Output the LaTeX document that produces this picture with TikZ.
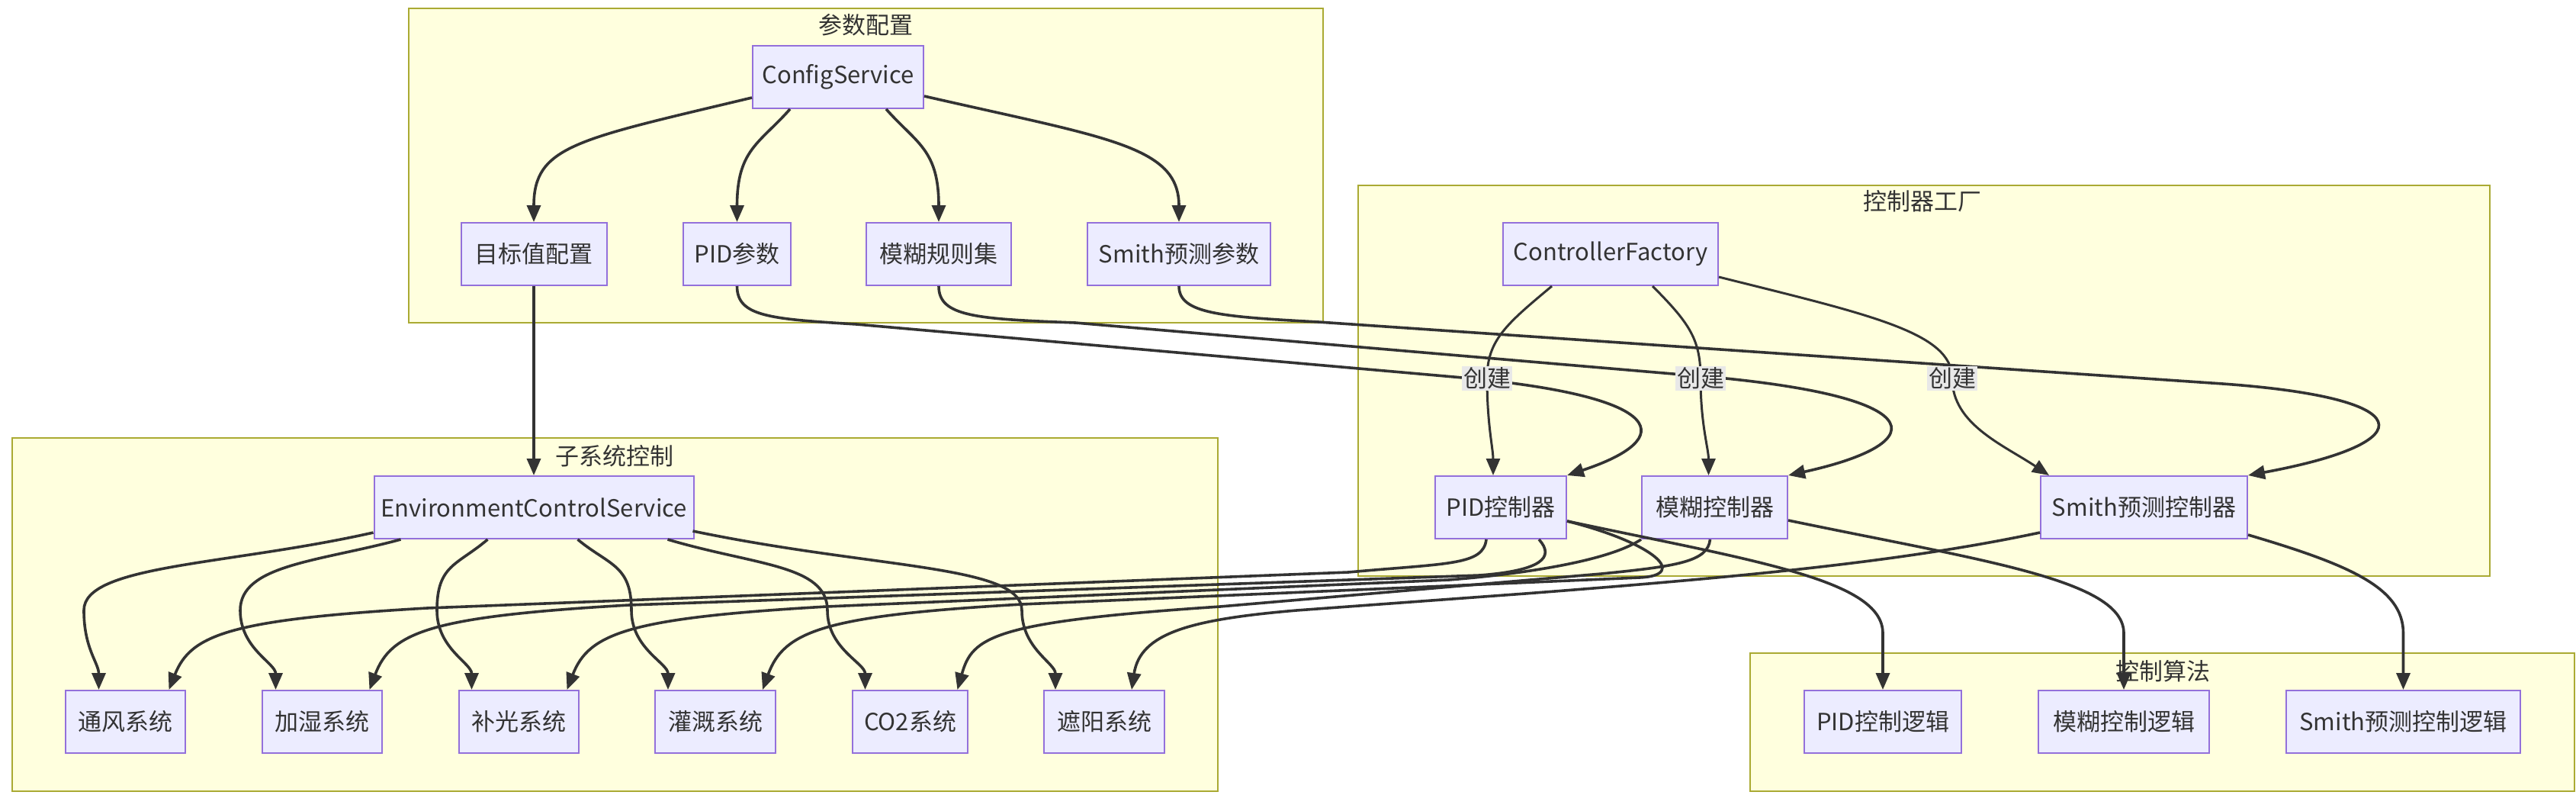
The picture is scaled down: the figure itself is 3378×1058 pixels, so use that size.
\documentclass[tikz,border=0pt]{standalone}
\usepackage{fontspec}
\setmainfont{Noto Sans CJK SC}
\usepackage{tikz}
\usetikzlibrary{arrows.meta}

\definecolor{nodefill}{HTML}{ECECFF}
\definecolor{nodeline}{HTML}{9370DB}
\definecolor{groupfill}{HTML}{FFFFDE}
\definecolor{groupline}{HTML}{AAAA33}
\definecolor{ink}{HTML}{333333}
\definecolor{lblbg}{HTML}{E8E8E8}

\tikzset{
  box/.style={draw=nodeline, fill=nodefill, line width=2pt, minimum height=82pt, inner sep=4pt, text=ink, font=\fontsize{31pt}{36pt}\selectfont},
  cluster/.style={draw=groupline, fill=groupfill, line width=2pt},
  grouptitle/.style={text=ink, inner sep=0pt, font=\fontsize{31pt}{36pt}\selectfont},
  arr/.style={draw=ink, line width=3.6pt, -{Triangle[length=22pt,width=18pt]}},
  makearr/.style={arr, line width=3pt},
  lbl/.style={fill=lblbg, text=ink, inner sep=2pt, font=\fontsize{31pt}{36pt}\selectfont}
}

\begin{document}
\begin{tikzpicture}[x=1pt, y=-1pt]
    \useasboundingbox (0,0) rectangle (3378,1058);

    % Clusters
    \draw[cluster] (536,11) rectangle (1735,423);
    \draw[cluster] (1781,243) rectangle (3265,755);
    \draw[cluster] (16,574) rectangle (1597,1037);
    \draw[cluster] (2295,856) rectangle (3376,1037);
    \node[grouptitle] (cfgtitle) at (1135,33) {参数配置};
    \node[grouptitle] (factorytitle) at (2521,264) {控制器工厂};
    \node[grouptitle] (subtitle) at (806,598) {子系统控制};
    \node[grouptitle] (algotitle) at (2836,880) {控制算法};

    % Configuration
    \node[box, minimum width=224pt] (cfg) at (1099,101) {ConfigService};
    \node[box, minimum width=191pt] (target) at (700,333) {目标值配置};
    \node[box, minimum width=141pt] (pidpar) at (966.5,333) {PID参数};
    \node[box, minimum width=190pt] (fuzzypar) at (1231,333) {模糊规则集};
    \node[box, minimum width=240pt] (smithpar) at (1546,333) {Smith预测参数};

    % Controller factory
    \node[box, minimum width=282pt] (factory) at (2112,333) {ControllerFactory};
    \node[box, minimum width=172pt] (pidctl) at (1968,665) {PID控制器};
    \node[box, minimum width=191pt] (fuzzyctl) at (2248.5,665) {模糊控制器};
    \node[box, minimum width=271pt] (smithctl) at (2811.5,665) {Smith预测控制器};

    % Subsystems
    \node[box, minimum width=419pt] (envsvc) at (700,665) {EnvironmentControlService};
    \node[box, minimum width=157pt] (vent) at (164.5,946) {通风系统};
    \node[box, minimum width=157pt] (humid) at (422.5,946) {加湿系统};
    \node[box, minimum width=157pt] (light) at (680.5,946) {补光系统};
    \node[box, minimum width=158pt] (irrig) at (938,946) {灌溉系统};
    \node[box, minimum width=151pt] (co2) at (1193.5,946) {CO2系统};
    \node[box, minimum width=158pt] (shade) at (1448,946) {遮阳系统};

    % Algorithms
    \node[box, minimum width=206pt] (pidlog) at (2469,946) {PID控制逻辑};
    \node[box, minimum width=224pt] (fuzzylog) at (2785,946) {模糊控制逻辑};
    \node[box, minimum width=307pt] (smithlog) at (3151.5,946) {Smith预测控制逻辑};

    % ConfigService to its parameters
    \draw[arr] ([yshift=15pt]cfg.south west) .. controls +(-230,55) and +(0,-100) .. (target.north);
    \draw[arr] ([xshift=50pt]cfg.south west) .. controls +(-40,45) and +(0,-95) .. (pidpar.north);
    \draw[arr] ([xshift=-50pt]cfg.south east) .. controls +(40,45) and +(0,-95) .. (fuzzypar.north);
    \draw[arr] ([yshift=17pt]cfg.south east) .. controls +(240,55) and +(0,-100) .. (smithpar.north);

    % Target values feed the environment service
    \draw[arr] (target) -- (envsvc);

    % Parameters to controllers
    \draw[arr] (pidpar.south) .. controls +(0,40) and (1010,418) .. (1123,425) -- (1918,495) .. controls (2190,520) and (2200,575) .. (pidctl.north east);
    \draw[arr] (fuzzypar.south) .. controls +(0,40) and (1280,418) .. (1410,423) -- (2194,490) .. controls (2540,515) and (2540,580) .. (fuzzyctl.north east);
    \draw[arr] (smithpar.south) .. controls +(0,36) and (1600,415) .. (1729,422) -- (2900,502) .. controls (3180,520) and (3180,580) .. (smithctl.north east);

    % Factory creates controllers
    \draw[makearr] ([xshift=65pt]factory.south west) .. controls +(-60,50) and +(0,-50) .. (1950,496) node[lbl] (mk1) {创建} .. controls +(0,60) and +(0,-35) .. ([xshift=-10pt]pidctl.north);
    \draw[makearr] ([xshift=197pt]factory.south west) .. controls +(50,50) and +(0,-50) .. (2230,496) node[lbl] (mk2) {创建} .. controls +(0,60) and +(0,-35) .. ([xshift=-8pt]fuzzyctl.north);
    \draw[makearr] ([yshift=12pt]factory.south east) .. controls +(200,50) and +(0,-60) .. (2560,496) node[lbl] (mk3) {创建} .. controls +(0,60) and +(-60,-40) .. ([xshift=12pt]smithctl.north west);

    % Controllers to algorithms
    \draw[arr] ([yshift=-18pt]pidctl.east) .. controls (2300,735) and (2469,760) .. (2469,830) -- (pidlog.north);
    \draw[arr] ([yshift=-17pt]fuzzyctl.east) .. controls (2600,735) and (2785,760) .. (2785,830) -- (fuzzylog.north);
    \draw[arr] ([yshift=6pt]smithctl.south east) .. controls (3080,740) and (3151.5,770) .. (3151.5,830) -- (smithlog.north);

    % Environment service to the subsystems
    \foreach \sub/\sx/\sy/\cx/\cy/\xv/\ex in {vent/0/9/-191/43/110/-35, humid/36/0/-107/29/315/-61, light/150/0/-40/34/573/-62, irrig/268/0/41/34/828/-62, co2/386/0/114/34/1085/-59, shade/419/11/240/50/1340/-64}
        \draw[arr] ([xshift=\sx pt,yshift=\sy pt]envsvc.south west) .. controls +(\cx,\cy) and (\xv,740) .. (\xv,800) .. controls (\xv,850) and ([xshift=\ex pt,yshift=35pt]\sub.north) .. ([xshift=\ex pt]\sub.north);

    % Controllers to the subsystems
    \draw[arr] ([xshift=-19pt]pidctl.south) .. controls +(-4,34) and (1900,738) .. (1768,750) -- (560,797) .. controls (300,812) and (250,832) .. ([xshift=57pt]vent.north);
    \draw[arr] ([xshift=50pt]pidctl.south) .. controls +(22,24) and (2020,748) .. (1940,754) -- (825,793) .. controls (565,808) and (513,828) .. ([xshift=62pt]humid.north);
    \draw[arr] (fuzzyctl.south west) .. controls (2110,735) and (2000,752) .. (1900,760) -- (1084,795) .. controls (824,810) and (772,830) .. ([xshift=63pt]light.north);
    \draw[arr] ([yshift=-18pt]pidctl.east) .. controls (2170,712) and (2215,754) .. (2150,757) -- (1340,792) .. controls (1080,807) and (1028,827) .. ([xshift=62pt]irrig.north);
    \draw[arr] ([xshift=-6pt]fuzzyctl.south) .. controls +(-3,29) and (2200,742) .. (2100,752) -- (1600,795) .. controls (1300,815) and (1275,835) .. ([xshift=62pt]co2.north);
    \draw[arr] ([yshift=9pt]smithctl.south west) .. controls (2500,735) and (2300,755) .. (2000,778) -- (1700,800) .. controls (1560,812) and (1495,830) .. ([xshift=36pt]shade.north);
\end{tikzpicture}
\end{document}
